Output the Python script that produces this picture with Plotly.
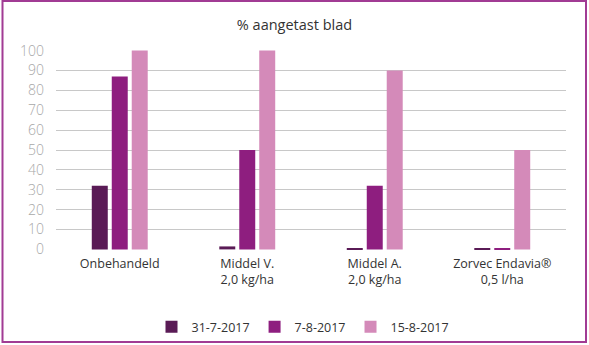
import plotly.graph_objects as go

categories = ["Onbehandeld", "Middel V.<br>2,0 kg/ha", "Middel A.<br>2,0 kg/ha", "Zorvec Endavia®<br>0,5 l/ha"]
series_names = ["31-7-2017", "7-8-2017", "15-8-2017"]
v_31_7 = [32, 1.5, 0.6, 0.3]
v_7_8 = [87, 50, 32, 0.7]
v_15_8 = [100, 100, 90, 50]
colors = ["#5a1b56", "#8e1e7f", "#d48ab9"]
y_ticks = [0, 10, 20, 30, 40, 50, 60, 70, 80, 90, 100]

FONT = "Open Sans"

fig = go.Figure()
for name, vals, col in zip(series_names, [v_31_7, v_7_8, v_15_8], colors):
    fig.add_trace(go.Bar(x=categories, y=vals, name=name, marker=dict(color=col, line=dict(width=0))))

W, H = 589, 345
ml, mr, mt, mb = 56, 23, 50, 95
pw, ph = W - ml - mr, H - mt - mb

def px_x(p):
    return (p - ml) / pw

def px_y(p):
    return (H - mb - p) / ph

fig.update_layout(
    width=W, height=H,
    margin=dict(l=ml, r=mr, t=mt, b=mb, autoexpand=False),
    paper_bgcolor="white", plot_bgcolor="white",
    barmode="group", bargap=0.53, bargroupgap=0.2,
    font=dict(family=FONT, color="#333333", size=12),
    title=dict(text="% aangetast blad", x=px_x(311), xanchor="center", y=1 - 25 / H, yanchor="middle",
               font=dict(family=FONT, size=14.5, color="#333333")),
    showlegend=True,
    legend=dict(orientation="h", x=px_x(303), xanchor="center", y=px_y(327), yanchor="middle",
                font=dict(family=FONT, size=12.5, color="#333333"), itemwidth=30,
                bgcolor="rgba(0,0,0,0)"),
    xaxis=dict(showline=False, showgrid=False, zeroline=False, ticks="",
               tickfont=dict(family=FONT, size=12.5, color="#333333"), ticklabelstandoff=4),
    yaxis=dict(range=[-0.3, 100.3], tickvals=y_ticks, showgrid=True, gridcolor="#c8c8c8", gridwidth=1.3,
               zeroline=False, showline=False, ticks="",
               tickfont=dict(family=FONT, size=14, color="#a8a8a8", weight=300), ticklabelstandoff=11),
    shapes=[dict(type="rect", xref="paper", yref="paper",
                 x0=px_x(2.5), x1=px_x(586), y0=px_y(342), y1=px_y(1),
                 line=dict(color="#a13b94", width=2), fillcolor="rgba(0,0,0,0)", layer="below")],
)

fig.write_html("out.html")
